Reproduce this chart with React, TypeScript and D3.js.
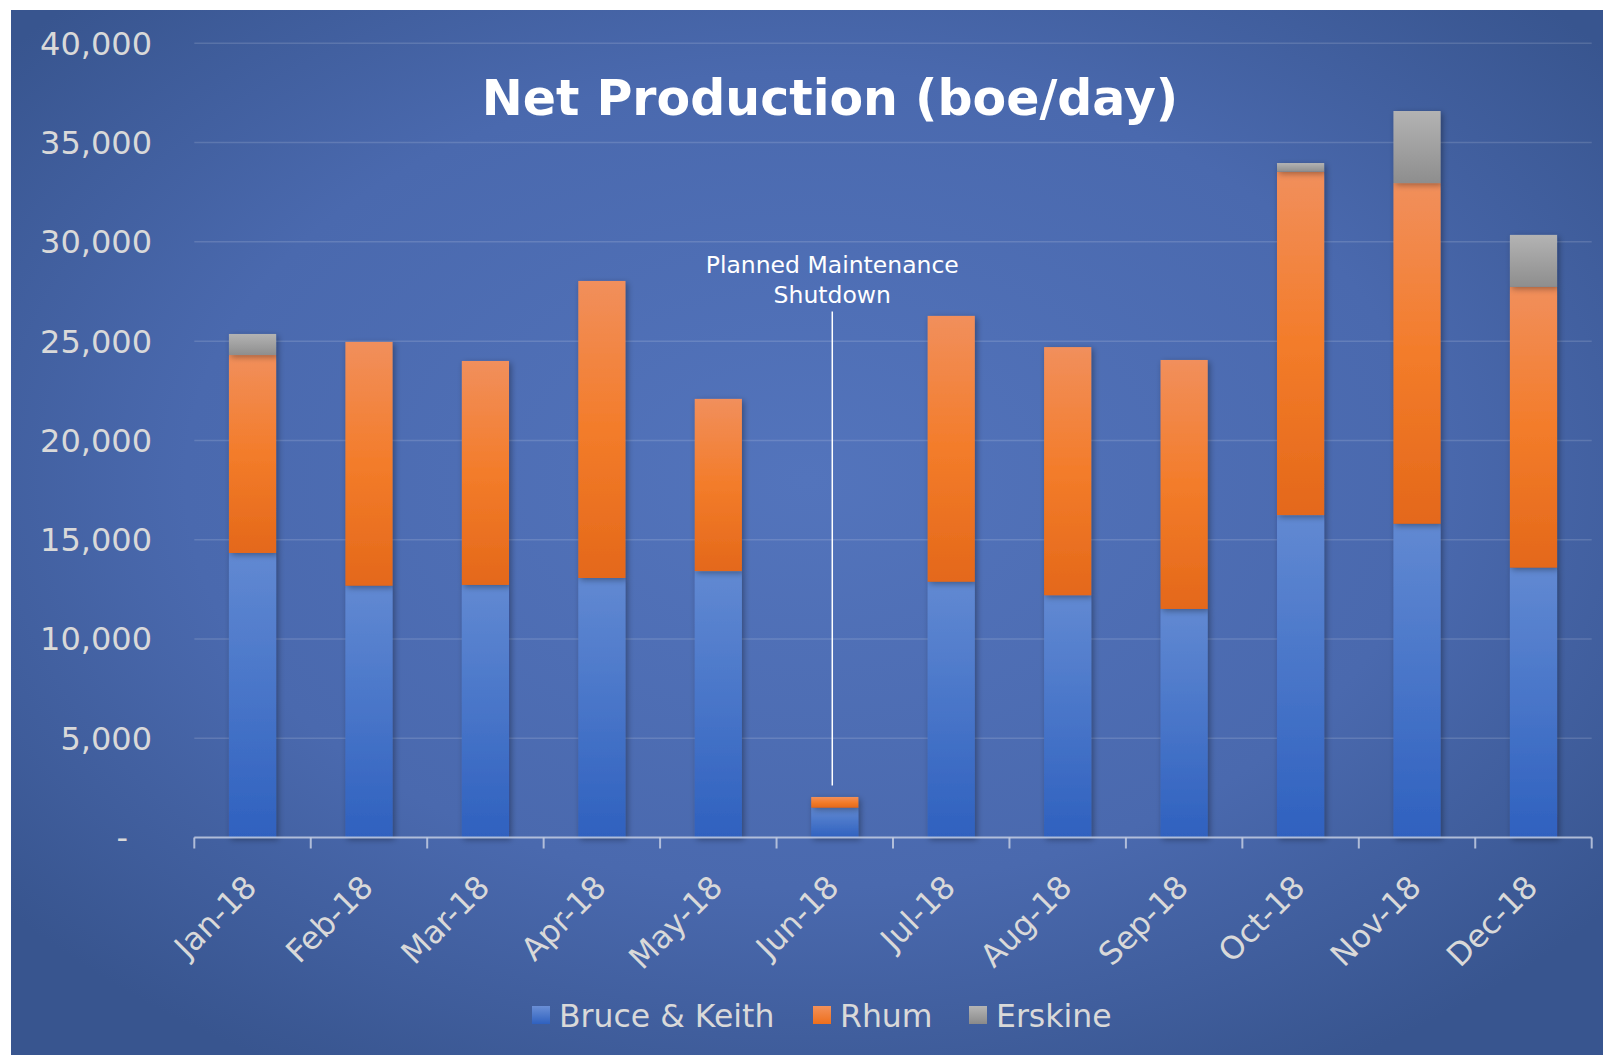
import React from "react";
import * as d3 from "d3";

const months = ["Jan-18","Feb-18","Mar-18","Apr-18","May-18","Jun-18","Jul-18","Aug-18","Sep-18","Oct-18","Nov-18","Dec-18"];
const seriesNames = ["Bruce & Keith", "Rhum", "Erskine"];
const bruceKeith = [14330, 12680, 12720, 13070, 13420, 1500, 12880, 12200, 11510, 16240, 15800, 13590];
const rhum = [9970, 12280, 11280, 14960, 8670, 540, 13390, 12500, 12540, 17290, 17160, 14140];
const erskine = [1060, 0, 0, 0, 0, 0, 0, 0, 0, 440, 3630, 2620];
const yTicks = [0, 5000, 10000, 15000, 20000, 25000, 30000, 35000, 40000];
const titleText = "Net Production (boe/day)";
const annotationLines = ["Planned Maintenance", "Shutdown"];
const annotationMonth = "Jun-18";

const W = 1603, H = 1055;
const FONT = "'DejaVu Sans', Verdana, sans-serif";

export default function App() {
  const x = d3.scaleBand<string>().domain(months).range([194.3, 1591.7]).paddingInner(0.595).paddingOuter(0.2975);
  const y = d3.scaleLinear().domain([0, 40000]).range([837.5, 43.3]);
  const rows = months.map((m, i) => ({ month: m, "Bruce & Keith": bruceKeith[i], Rhum: rhum[i], Erskine: erskine[i] }));
  const stacked = d3.stack<any>().keys(seriesNames)(rows);
  const fmt = (v: number) => (v === 0 ? "-" : d3.format(",")(v));
  const gradIds = ["gBlue", "gOrange", "gGray"];
  const legendSwatch = ["url(#gBlueL)", "url(#gOrangeL)", "url(#gGrayL)"];
  const legendX = [532, 813, 969];
  const step = x.step();
  const x0 = x.range()[0];
  const x1 = x.range()[1];
  const annX = (x(annotationMonth) as number) + x.bandwidth() / 2 - 2.5;

  return (
    <svg width={W} height={H} style={{ position: "absolute", left: 0, top: 0 }} fontFamily={FONT}>
      <defs>
        <radialGradient id="bg" cx="50%" cy="45%" r="65%">
          <stop offset="0%" stopColor="#5374bc" />
          <stop offset="60%" stopColor="#4a69ae" />
          <stop offset="100%" stopColor="#38558f" />
        </radialGradient>
        <linearGradient id="gBlue" x1="0" y1="0" x2="0" y2="1">
          <stop offset="0%" stopColor="#6189d2" />
          <stop offset="100%" stopColor="#2f61bf" />
        </linearGradient>
        <linearGradient id="gOrange" x1="0" y1="0" x2="0" y2="1">
          <stop offset="0%" stopColor="#f18f5c" />
          <stop offset="50%" stopColor="#f37c2a" />
          <stop offset="100%" stopColor="#e4681a" />
        </linearGradient>
        <linearGradient id="gGray" x1="0" y1="0" x2="0" y2="1">
          <stop offset="0%" stopColor="#b3b3b3" />
          <stop offset="100%" stopColor="#8e8e8e" />
        </linearGradient>
        <linearGradient id="gBlueL" x1="0" y1="0" x2="0" y2="1">
          <stop offset="0%" stopColor="#6a8fd6" />
          <stop offset="100%" stopColor="#2f61bf" />
        </linearGradient>
        <linearGradient id="gOrangeL" x1="0" y1="0" x2="0" y2="1">
          <stop offset="0%" stopColor="#f3915a" />
          <stop offset="100%" stopColor="#ee6f1c" />
        </linearGradient>
        <linearGradient id="gGrayL" x1="0" y1="0" x2="0" y2="1">
          <stop offset="0%" stopColor="#b5b5b5" />
          <stop offset="100%" stopColor="#8a8a8a" />
        </linearGradient>
        <filter id="shadow" x="-30%" y="-10%" width="160%" height="120%">
          <feDropShadow dx="2" dy="2" stdDeviation="3" floodColor="#000" floodOpacity="0.35" />
        </filter>
      </defs>
      <rect x={11} y={10} width={W - 11} height={H - 10} fill="url(#bg)" />

      {yTicks.map((t) => (
        <g key={t}>
          {t > 0 && (
            <line x1={x0} x2={x1} y1={y(t)} y2={y(t)} stroke="#ffffff" strokeOpacity={0.14} strokeWidth={1.5} />
          )}
          <text x={t === 0 ? 128 : 152} y={y(t) + 11.5} textAnchor="end" fontSize={32} fill="#d9d9d9">
            {fmt(t)}
          </text>
        </g>
      ))}

      <text x={830} y={115} textAnchor="middle" fontSize={49} fontWeight="bold" fill="#ffffff">
        {titleText}
      </text>

      {stacked.map((s, si) => (
        <g key={s.key} filter="url(#shadow)">
          {s.map((d, i) => {
            const h = y(d[0]) - y(d[1]);
            if (h <= 0) return null;
            return (
              <rect
                key={i}
                x={x(months[i]) as number}
                y={y(d[1])}
                width={x.bandwidth()}
                height={h}
                fill={`url(#${gradIds[si]})`}
              />
            );
          })}
        </g>
      ))}

      <line x1={x0} x2={x1} y1={y(0)} y2={y(0)} stroke="#c3cde2" strokeOpacity={0.85} strokeWidth={2} />
      {d3.range(months.length + 1).map((i) => (
        <line key={i} x1={x0 + i * step} x2={x0 + i * step} y1={y(0)} y2={y(0) + 11} stroke="#c3cde2" strokeOpacity={0.85} strokeWidth={2} />
      ))}

      {months.map((m) => {
        const cx = (x(m) as number) + x.bandwidth() / 2;
        return (
          <text key={m} transform={`translate(${cx + 6},${889}) rotate(-45)`} textAnchor="end" fontSize={31.5} fill="#d9d9d9">
            {m}
          </text>
        );
      })}

      {annotationLines.map((l, i) => (
        <text key={l} x={annX} y={273 + i * 29.5} textAnchor="middle" fontSize={23.5} fill="#ffffff">
          {l}
        </text>
      ))}
      <line x1={annX} x2={annX} y1={311.5} y2={785.5} stroke="#ffffff" strokeWidth={1.5} />

      {seriesNames.map((n, i) => (
        <g key={n}>
          <rect x={legendX[i]} y={1006} width={18} height={18} fill={legendSwatch[i]} />
          <text x={legendX[i] + 27} y={1027} fontSize={31.5} fill="#d9d9d9">
            {n}
          </text>
        </g>
      ))}
    </svg>
  );
}
